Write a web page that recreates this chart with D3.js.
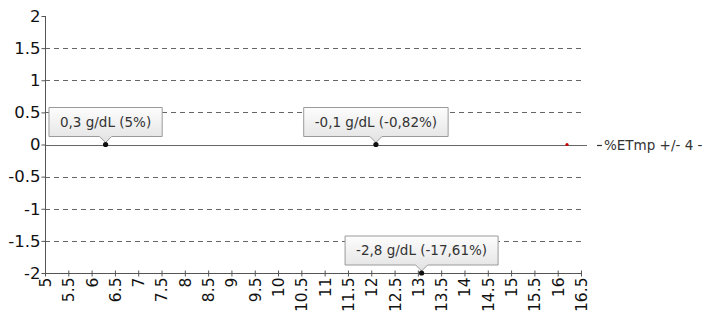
<!DOCTYPE html>
<html><head><meta charset="utf-8">
<script src="https://cdn.jsdelivr.net/npm/d3@7/dist/d3.min.js"></script>
<style>body{margin:0;background:#fff}svg{display:block}</style>
</head><body>
<svg id="c" width="709" height="312"></svg>
<script>
const xTicks = [5,5.5,6,6.5,7,7.5,8,8.5,9,9.5,10,10.5,11,11.5,12,12.5,13,13.5,14,14.5,15,15.5,16,16.5];
const yTicks = [-2,-1.5,-1,-0.5,0,0.5,1,1.5,2];
const pointX = [6.3, 12.1, 13.08];
const pointY = [0, 0, -2];
const pointLabels = ["0,3 g/dL (5%)", "-0,1 g/dL (-0,82%)", "-2,8 g/dL (-17,61%)"];
const seriesX = [16.2];
const seriesY = [0];
const legendName = "%ETmp +/- 4 -";

const svg = d3.select("#c");
const font = "DejaVu Sans, Verdana, sans-serif";
const x = d3.scaleLinear().domain([5,16.5]).range([45,581]);
const y = d3.scaleLinear().domain([-2,2]).range([273,16]);

// gridlines
svg.append("g").selectAll("line").data(yTicks.filter(d=>d!==0 && d!==-2 && d!==2)).join("line")
  .attr("x1",x(5)).attr("x2",x(16.5)).attr("y1",d=>Math.round(y(d))+0.5).attr("y2",d=>Math.round(y(d))+0.5)
  .attr("stroke","#666").attr("stroke-dasharray","5,4");
// zero line
svg.append("line").attr("x1",x(5)).attr("x2",587).attr("y1",Math.round(y(0))+0.5).attr("y2",Math.round(y(0))+0.5)
  .attr("stroke","#666").attr("stroke-width",1.2);

// y axis
const ya = svg.append("g").attr("transform","translate(45.5,0)")
  .call(d3.axisLeft(y).tickValues(yTicks).tickSize(4).tickFormat(d=>String(d)));
ya.select(".domain").attr("stroke","#555").attr("d",`M0,${y(2)}V${y(-2)}`);
ya.selectAll(".tick line").attr("stroke","#555");
ya.selectAll(".tick text").attr("font-family",font).attr("font-size",16.5).attr("fill","#111").attr("x",-5);

// x axis
const xa = svg.append("g").attr("transform",`translate(0,${Math.round(y(-2))+0.5})`)
  .call(d3.axisBottom(x).tickValues(xTicks).tickSize(4).tickFormat(d=>String(d)));
xa.select(".domain").attr("stroke","#555").attr("d",`M${x(5)},0H${x(16.5)}`);
xa.selectAll(".tick line").attr("stroke","#555").attr("y1",-3).attr("y2",3);
xa.selectAll(".tick text").attr("font-family",font).attr("font-size",15.5).attr("fill","#111")
  .attr("transform","rotate(-90)").attr("text-anchor","end").attr("x",-4).attr("y",0).attr("dy","0.35em");

// series
svg.append("g").selectAll("circle").data(seriesX).join("circle")
  .attr("cx",(d)=>x(d)).attr("cy",(d,i)=>y(seriesY[i])).attr("r",1.6).attr("fill","#c00");

// legend
const ly = Math.round(y(0))+0.5;
svg.append("line").attr("x1",597).attr("x2",602).attr("y1",ly).attr("y2",ly).attr("stroke","#333").attr("stroke-width",1.2);
svg.append("text").attr("x",604).attr("y",ly).attr("dy","0.35em").attr("font-family",font).attr("font-size",13.5)
  .attr("fill","#333").text(legendName);

// gradient
const defs = svg.append("defs");
const g = defs.append("linearGradient").attr("id","bg").attr("x1",0).attr("y1",0).attr("x2",0).attr("y2",1);
g.append("stop").attr("offset","0%").attr("stop-color","#fdfdfd");
g.append("stop").attr("offset","100%").attr("stop-color","#e2e2e2");

// annotations
pointX.forEach((px,i)=>{
  const cx = x(px), cy = y(pointY[i]);
  const grp = svg.append("g");
  const box = grp.append("path");
  const t = grp.append("text").attr("font-family",font).attr("font-size",13.5).attr("fill","#333")
    .attr("text-anchor","middle").text(pointLabels[i]);
  const w = t.node().getComputedTextLength() + 22;
  const h = 29, bottom = cy - 8, top = bottom - h;
  const l = cx - w/2, r = cx + w/2;
  const path = `M${l},${top}H${r}V${bottom}H${cx+6}L${cx},${bottom+6}L${cx-6},${bottom}H${l}Z`;
  box.attr("d",path).attr("fill","url(#bg)").attr("stroke","#9a9a9a").attr("stroke-width",1);
  t.attr("x",cx).attr("y",top+h/2).attr("dy","0.35em");
  grp.append("circle").attr("cx",cx).attr("cy",cy).attr("r",2.6).attr("fill","#111");
});
</script>
</body></html>
